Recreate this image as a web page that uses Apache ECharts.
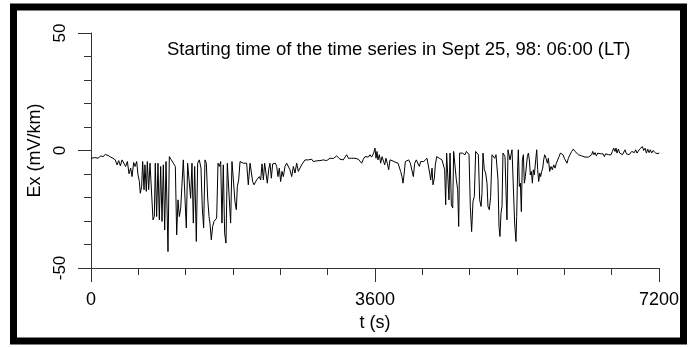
<!DOCTYPE html>
<html>
<head>
<meta charset="utf-8">
<script src="https://cdn.jsdelivr.net/npm/echarts@6/dist/echarts.min.js"></script>
<style>
  html, body { margin: 0; padding: 0; background: #fff; }
  #main { width: 692px; height: 347px; }
</style>
</head>
<body>
<div id="main"></div>
<script type="text/javascript">
// 时间 (s) 与电场 Ex (mV/km)
var timeS = [
  4, 47, 89, 123, 152, 182, 216, 249, 279, 308, 330, 351, 372, 393, 418, 439, 461, 482, 503, 520,
  541, 558, 579, 596, 613, 625, 642, 655, 672, 684, 701, 714, 731, 748, 765, 786, 803, 815, 832, 849,
  866, 883, 900, 917, 934, 951, 976, 993, 1018, 1044, 1069, 1086, 1103, 1120, 1137, 1153, 1170, 1187, 1208, 1225,
  1246, 1263, 1280, 1297, 1314, 1335, 1352, 1373, 1394, 1411, 1428, 1445, 1462, 1479, 1496, 1508, 1525, 1542, 1559, 1576,
  1593, 1610, 1627, 1644, 1660, 1677, 1694, 1711, 1728, 1745, 1770, 1787, 1808, 1825, 1842, 1855, 1872, 1889, 1910, 1931,
  1952, 1973, 1994, 2016, 2032, 2049, 2066, 2083, 2100, 2117, 2134, 2151, 2168, 2185, 2201, 2218, 2235, 2252, 2269, 2286,
  2303, 2320, 2337, 2354, 2370, 2387, 2404, 2421, 2438, 2459, 2480, 2501, 2522, 2544, 2565, 2586, 2607, 2628, 2649, 2670,
  2691, 2713, 2734, 2755, 2776, 2797, 2818, 2839, 2860, 2882, 2903, 2924, 2945, 2966, 2987, 3008, 3030, 3051, 3072, 3093,
  3114, 3135, 3156, 3177, 3198, 3220, 3241, 3262, 3283, 3304, 3325, 3346, 3368, 3389, 3410, 3431, 3452, 3473, 3494, 3515,
  3536, 3557, 3578, 3583, 3600, 3613, 3625, 3638, 3655, 3672, 3689, 3706, 3723, 3739, 3756, 3773, 3790, 3816, 3841, 3866,
  3892, 3908, 3925, 3942, 3955, 3968, 3985, 4006, 4027, 4048, 4069, 4086, 4103, 4124, 4145, 4162, 4179, 4196, 4217, 4238,
  4259, 4280, 4293, 4306, 4323, 4335, 4352, 4365, 4382, 4399, 4416, 4432, 4449, 4466, 4483, 4496, 4508, 4525, 4538, 4551,
  4568, 4585, 4597, 4614, 4631, 4648, 4661, 4673, 4690, 4707, 4724, 4741, 4758, 4775, 4792, 4808, 4825, 4842, 4859, 4876,
  4893, 4910, 4927, 4944, 4956, 4969, 4986, 5003, 5020, 5032, 5049, 5066, 5083, 5100, 5117, 5134, 5151, 5159, 5172, 5184,
  5197, 5210, 5222, 5235, 5248, 5260, 5273, 5286, 5299, 5311, 5324, 5337, 5353, 5370, 5387, 5396, 5409, 5417, 5430, 5443,
  5455, 5468, 5481, 5493, 5506, 5519, 5531, 5544, 5557, 5569, 5582, 5595, 5607, 5620, 5637, 5650, 5662, 5675, 5688, 5700,
  5713, 5726, 5738, 5751, 5768, 5785, 5798, 5814, 5831, 5848, 5865, 5882, 5899, 5916, 5933, 5950, 5967, 5983, 6000, 6017,
  6034, 6051, 6072, 6093, 6114, 6136, 6157, 6178, 6199, 6220, 6241, 6262, 6283, 6305, 6326, 6347, 6359, 6376, 6389, 6406,
  6423, 6440, 6457, 6474, 6490, 6507, 6524, 6541, 6558, 6575, 6592, 6609, 6626, 6643, 6655, 6668, 6685, 6702, 6719, 6736,
  6753, 6770, 6786, 6803, 6820, 6837, 6854, 6871, 6888, 6904, 6921, 6938, 6955, 6972, 6989, 7006, 7023, 7040, 7057, 7074,
  7090, 7107, 7124, 7141, 7158, 7175, 7192, 7200
];
var exValues = [
  -3.3, -3.0, -3.3, -2.3, -2.6, -1.7, -2.1, -2.8, -3.3, -4.0, -6.1, -4.3, -6.5, -4.0, -4.3, -6.8, -4.7, -9.9, -7.5, -11.1,
  -5.1, -6.8, -4.7, -10.4, -13.2, -18.2, -15.3, -4.7, -16.7, -6.1, -17.4, -4.7, -16.7, -5.4, -6.1, -29.5, -28.1, -5.4, -28.1, -5.4,
  -29.5, -6.8, -30.2, -6.1, -33.8, -4.7, -43.0, -2.6, -4.0, -5.4, -6.8, -35.9, -21.0, -28.1, -24.5, -23.8, -4.0, -4.7, -33.0, -5.4,
  -6.1, -20.3, -5.4, -30.9, -6.8, -38.7, -5.4, -4.0, -7.5, -24.5, -33.0, -4.0, -5.4, -20.3, -28.1, -30.9, -38.0, -32.3, -30.2, -29.5,
  -28.8, -5.4, -6.8, -4.7, -30.9, -6.1, -35.2, -39.4, -5.4, -4.7, -30.9, -4.7, -5.4, -21.7, -25.2, -15.3, -12.5, -4.7, -5.1, -5.4,
  -5.1, -5.4, -14.6, -5.4, -5.1, -13.2, -14.6, -13.9, -12.5, -13.2, -11.1, -12.5, -5.7, -12.5, -5.4, -6.1, -13.9, -8.2, -5.4, -11.8,
  -5.7, -6.1, -5.4, -6.8, -11.1, -7.5, -13.2, -8.9, -11.1, -6.8, -5.4, -5.7, -8.2, -11.1, -6.8, -9.6, -5.4, -8.9, -9.6, -6.1,
  -5.4, -4.0, -4.7, -4.0, -4.3, -3.7, -4.7, -4.0, -4.4, -3.7, -4.3, -4.7, -4.0, -4.5, -4.3, -3.7, -3.3, -3.0, -3.4, -3.3,
  -2.3, -2.8, -3.7, -3.3, -4.0, -2.8, -1.8, -3.3, -3.7, -3.3, -4.0, -3.3, -2.8, -3.7, -4.3, -5.4, -3.7, -2.6, -3.3, -2.8,
  -1.8, -2.8, -2.3, -1.1, 1.0, -3.3, -0.4, -4.0, -1.8, -5.4, -2.6, -3.3, -6.1, -3.3, -5.4, -8.2, -4.0, -4.3, -4.7, -5.1,
  -5.4, -5.1, -8.9, -11.1, -13.9, -10.4, -4.7, -4.3, -4.0, -5.4, -4.7, -11.1, -5.4, -4.0, -4.3, -6.8, -4.7, -4.0, -4.7, -4.0,
  -3.3, -4.0, -9.6, -12.5, -7.5, -14.6, -11.8, -6.1, -2.6, -2.3, -3.3, -2.8, -4.0, -3.3, -8.2, -23.1, -1.1, -0.4, -21.0, -1.1,
  -23.1, -24.5, -0.4, 0.3, -12.5, -16.7, -32.3, -1.1, -0.4, -1.1, -0.4, -1.8, -0.4, -1.1, -1.8, -23.8, -34.5, -21.7, -19.6, -0.4,
  0.3, -1.8, -21.0, -23.8, -18.2, -1.1, -8.2, -9.6, -13.9, -23.8, -25.2, -19.6, -1.8, -1.8, -3.3, -1.8, -2.6, -12.5, -32.3, -36.6,
  -26.7, -23.8, -1.1, -0.4, -2.6, -16.7, -29.5, 0.3, 1.0, -4.0, -1.8, 0.3, -0.4, -30.9, -38.7, -28.1, -6.8, 0.3, -15.3, -13.9,
  -26.0, -4.0, -1.8, -13.9, -11.1, -11.8, -2.6, -1.1, -4.0, -10.4, -8.9, -13.9, -8.2, -10.4, -4.0, 0.3, -8.2, -13.2, -9.6, -11.1,
  -8.9, -7.5, -4.0, -1.8, -3.3, -5.4, -3.3, -8.9, -6.8, -8.2, -6.1, -7.5, -5.4, -4.7, -2.6, -1.1, -0.4, -1.8, -3.3, -4.0,
  -5.4, -3.3, -1.8, -0.4, 0.6, -0.4, -1.1, -1.8, -2.3, -2.3, -2.6, -2.8, -2.6, -2.8, -2.3, -1.8, -0.4, -1.8, -0.9, -2.3,
  -1.1, -1.8, -1.4, -0.9, -1.4, -2.6, -1.4, -0.9, -1.8, -2.6, -1.8, -0.4, 1.0, -0.4, 1.0, -1.1, 0.6, -1.1, -0.4, -1.8,
  -1.1, 0.3, -1.4, -0.9, -1.8, -1.1, -0.4, 0.3, -0.9, 0.3, -1.1, -0.4, 0.6, 0.3, 1.7, 0.0, 1.0, -1.1, 0.6, -0.9,
  0.3, -1.1, 0.0, 0.6, -1.1, -0.4, -1.4, -0.9
];
var xTicks = [0, 3600, 7200];
var yTicks = [-50, 0, 50];
var titleText = 'Starting time of the time series in Sept 25, 98: 06:00 (LT)';

var seriesData = timeS.map(function (t, i) { return [t, exValues[i]]; });

var font = 'Liberation Sans, Arial, sans-serif';
var myChart = echarts.init(document.getElementById('main'));
var option = {
    animation: false,
    backgroundColor: '#fff',
    title: {
        text: titleText,
        left: 162,
        top: 35,
        textStyle: { fontFamily: font, fontSize: 18.5, fontWeight: 'normal', color: '#000' }
    },
    grid: { left: 91, right: 33, top: 33, bottom: 79 },
    xAxis: {
        type: 'value',
        min: xTicks[0],
        max: xTicks[2],
        interval: xTicks[1] - xTicks[0],
        name: 't (s)',
        nameLocation: 'middle',
        nameGap: 44,
        nameTextStyle: { fontFamily: font, fontSize: 18, color: '#000' },
        axisLine: { onZero: false, lineStyle: { color: '#333', width: 1 } },
        axisTick: { length: 14, lineStyle: { color: '#333' } },
        minorTick: { show: true, splitNumber: 6, length: 7, lineStyle: { color: '#333' } },
        axisLabel: {
            margin: 23, fontFamily: font, fontSize: 18, color: '#000',
            formatter: function (v) { return String(v); }
        },
        splitLine: { show: false }
    },
    yAxis: {
        type: 'value',
        min: yTicks[0],
        max: yTicks[2],
        interval: yTicks[1] - yTicks[0],
        name: 'Ex (mV/km)',
        nameLocation: 'middle',
        nameGap: 46,
        nameTextStyle: { fontFamily: font, fontSize: 18, color: '#000' },
        axisLine: { lineStyle: { color: '#333', width: 1 } },
        axisTick: { length: 13, lineStyle: { color: '#333' } },
        minorTick: { show: true, splitNumber: 5, length: 7, lineStyle: { color: '#333' } },
        axisLabel: {
            rotate: 90, margin: 22, fontFamily: font, fontSize: 17, color: '#000',
            formatter: function (v) { return String(v); }
        },
        splitLine: { show: false }
    },
    graphic: [{
        type: 'rect',
        shape: { x: 13.5, y: 7, width: 670, height: 334 },
        style: { fill: 'none', stroke: '#000', lineWidth: 7 },
        silent: true
    }],
    series: [{
        type: 'line',
        data: seriesData,
        showSymbol: false,
        lineStyle: { color: '#000', width: 1 },
        itemStyle: { color: '#000' }
    }]
};
myChart.setOption(option);
</script>
</body>
</html>
